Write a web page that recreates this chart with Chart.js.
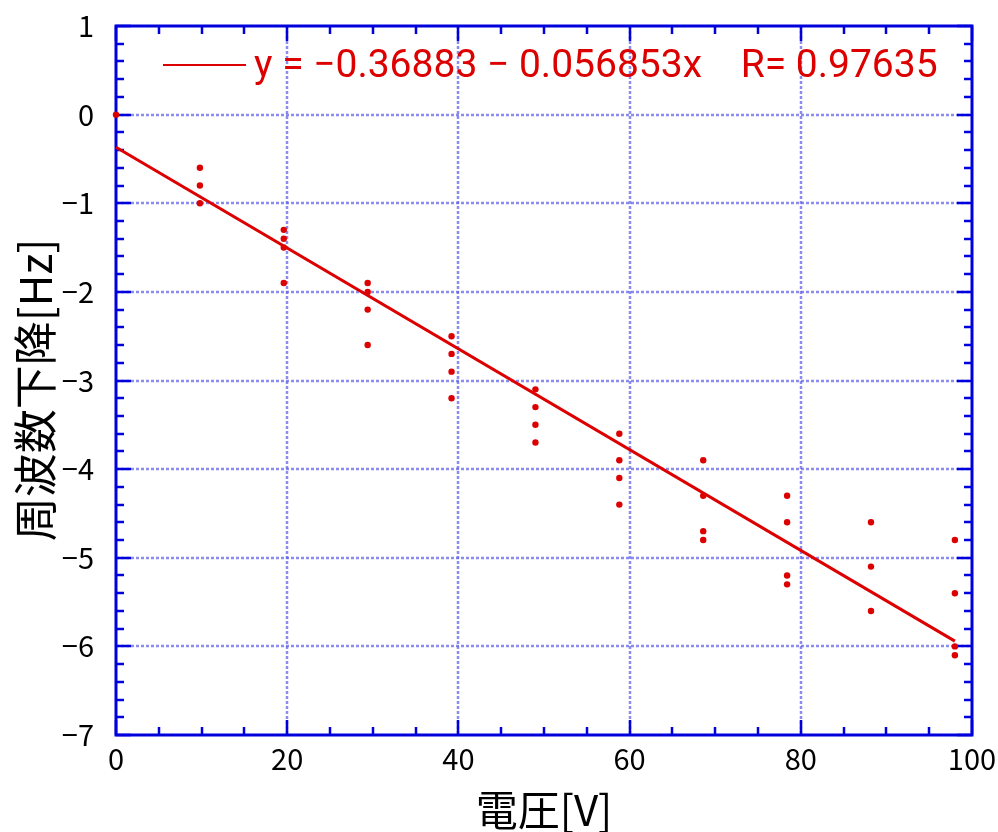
<!DOCTYPE html>
<html>
<head>
<meta charset="utf-8">
<script src="https://cdn.jsdelivr.net/npm/chart.js@4"></script>
<style>
  body { margin: 0; background: #fff; }
  canvas { display: block; }
</style>
</head>
<body>
<canvas id="graficoFrecuencia" width="998" height="832"></canvas>
<script>
// mediciones: tensión aplicada y caída de frecuencia en cada paso
const voltajes = [0, 9.8, 19.6, 29.4, 39.2, 49.0, 58.8, 68.6, 78.4, 88.2, 98.0];
const caidas = [
    [0],
    [-0.6, -0.8, -1.0],
    [-1.3, -1.4, -1.5, -1.9],
    [-1.9, -2.0, -2.2, -2.6],
    [-2.5, -2.7, -2.9, -3.2],
    [-3.1, -3.3, -3.5, -3.7],
    [-3.6, -3.9, -4.1, -4.4],
    [-3.9, -4.3, -4.7, -4.8],
    [-4.3, -4.6, -5.2, -5.3],
    [-4.6, -5.1, -5.6],
    [-4.8, -5.4, -6.0, -6.1]
];

// recta de ajuste (mínimos cuadrados)
const intercepto = -0.36883;
const pendiente = -0.056853;
const coefR = 0.97635;
const rangoAjuste = [0, 98];

// ejes
const ticksX = [0, 20, 40, 60, 80, 100];
const ticksY = [1, 0, -1, -2, -3, -4, -5, -6, -7];
const tituloY = '周波数下降[Hz]';

const puntos = [];
voltajes.forEach((v, i) => {
    caidas[i].forEach(c => puntos.push({ x: v, y: c }));
});
const lineaAjuste = rangoAjuste.map(v => ({ x: v, y: intercepto + pendiente * v }));

const menos = n => (n < 0 ? '−' + Math.abs(n) : String(n));
const textoAjuste = 'y = ' + menos(intercepto) + ' − ' + Math.abs(pendiente) + 'x    R= ' + coefR;

const AZUL = '#0000dd';
const ROJO = '#dd0000';
const fuenteJP = '"Noto Sans CJK JP", "Noto Sans", sans-serif';

// marco, rejilla punteada y marcas hacia adentro
const marcoPlugin = {
    id: 'marco',
    beforeDatasetsDraw(chart) {
        const { ctx, chartArea: a, scales: { x, y } } = chart;
        ctx.save();
        ctx.strokeStyle = 'rgba(100, 100, 235, 0.75)';
        ctx.lineWidth = 2.5;
        ctx.setLineDash([3, 2]);
        ticksX.slice(1, -1).forEach(v => {
            const px = Math.round(x.getPixelForValue(v));
            ctx.beginPath();
            ctx.moveTo(px, a.top);
            ctx.lineTo(px, a.bottom);
            ctx.stroke();
        });
        ticksY.slice(1, -1).forEach(v => {
            const py = Math.round(y.getPixelForValue(v));
            ctx.beginPath();
            ctx.moveTo(a.left, py);
            ctx.lineTo(a.right, py);
            ctx.stroke();
        });
        ctx.setLineDash([]);
        ctx.strokeStyle = AZUL;
        ctx.lineWidth = 2.5;
        for (let i = 0; i <= 20; i++) {
            const px = Math.round(x.getPixelForValue(i * 5));
            const largo = i % 4 === 0 ? 15 : 8;
            ctx.beginPath();
            ctx.moveTo(px, a.bottom);
            ctx.lineTo(px, a.bottom - largo);
            ctx.moveTo(px, a.top);
            ctx.lineTo(px, a.top + largo);
            ctx.stroke();
        }
        for (let i = -35; i <= 5; i++) {
            const py = Math.round(y.getPixelForValue(i / 5));
            const largo = i % 5 === 0 ? 15 : 8;
            ctx.beginPath();
            ctx.moveTo(a.left, py);
            ctx.lineTo(a.left + largo, py);
            ctx.moveTo(a.right, py);
            ctx.lineTo(a.right - largo, py);
            ctx.stroke();
        }
        ctx.lineWidth = 3;
        ctx.strokeRect(a.left, a.top, a.right - a.left, a.bottom - a.top);
        ctx.restore();
    },
    afterDatasetsDraw(chart) {
        const { ctx, chartArea: a } = chart;
        const ds = chart.data.datasets[1];
        ctx.save();
        // leyenda de la recta
        ctx.strokeStyle = ds.borderColor;
        ctx.lineWidth = 1.8;
        ctx.beginPath();
        ctx.moveTo(a.left + 47, a.top + 39);
        ctx.lineTo(a.left + 130, a.top + 39);
        ctx.stroke();
        ctx.fillStyle = ds.borderColor;
        ctx.font = '39px Roboto';
        ctx.textBaseline = 'middle';
        ctx.fillText(ds.label, a.left + 138, a.top + 41);
        // título del eje vertical
        ctx.fillStyle = '#000';
        ctx.font = '44px ' + fuenteJP;
        ctx.textAlign = 'center';
        ctx.translate(35, 390);
        ctx.rotate(-Math.PI / 2);
        ctx.fillText(tituloY, 0, 0);
        ctx.restore();
    }
};

const ctx = document.getElementById('graficoFrecuencia').getContext('2d');
const grafico = new Chart(ctx, {
    type: 'scatter',
    data: {
        datasets: [{
            label: 'mediciones',
            data: puntos,
            backgroundColor: ROJO,
            borderWidth: 0,
            pointRadius: 3.2,
            clip: false
        }, {
            label: textoAjuste,
            data: lineaAjuste,
            showLine: true,
            borderColor: ROJO,
            borderWidth: 3,
            pointRadius: 0,
            clip: false
        }]
    },
    options: {
        responsive: false,
        animation: false,
        layout: { padding: { top: 26, right: 26, left: 0, bottom: 0 } },
        plugins: {
            legend: { display: false },
            tooltip: { enabled: false }
        },
        scales: {
            x: {
                type: 'linear',
                min: 0,
                max: 100,
                grid: { display: false, drawTicks: false },
                border: { display: false },
                afterBuildTicks: s => { s.ticks = ticksX.map(v => ({ value: v })); },
                afterFit: s => { s.height = 97; s.paddingLeft = 0; s.paddingRight = 0; },
                ticks: {
                    autoSkip: false,
                    maxRotation: 0,
                    padding: 7,
                    color: '#000',
                    font: { family: fuenteJP, size: 29 }
                },
                title: {
                    display: true,
                    text: '電圧[V]',
                    color: '#000',
                    font: { family: fuenteJP, size: 42, lineHeight: 1 },
                    padding: { top: 0, bottom: 1 }
                }
            },
            y: {
                type: 'linear',
                min: -7,
                max: 1,
                grid: { display: false, drawTicks: false },
                border: { display: false },
                afterBuildTicks: s => { s.ticks = ticksY.map(v => ({ value: v })); },
                afterFit: s => { s.width = 116; s.paddingTop = 0; s.paddingBottom = 0; },
                ticks: {
                    autoSkip: false,
                    padding: 22,
                    color: '#000',
                    font: { family: fuenteJP, size: 29 },
                    callback: v => menos(v)
                }
            }
        }
    },
    plugins: [marcoPlugin]
});
</script>
</body>
</html>
